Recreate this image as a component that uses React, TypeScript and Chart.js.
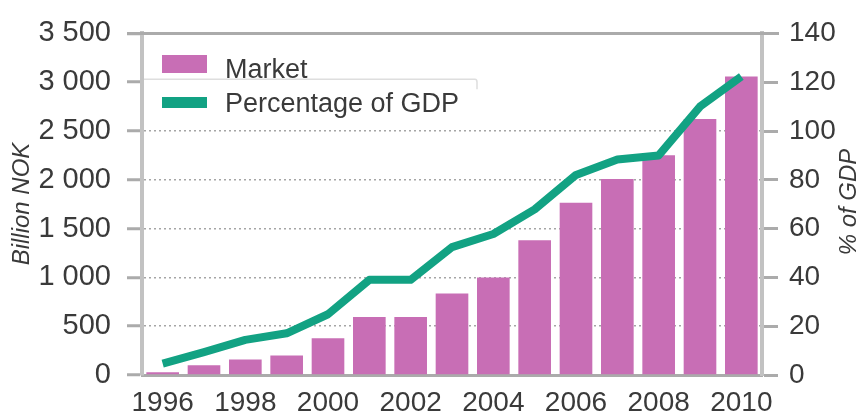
import React, { useEffect, useRef } from "react";
import { Chart, registerables } from "chart.js";

Chart.register(...registerables);

const years = ["1996", "1997", "1998", "1999", "2000", "2001", "2002", "2003", "2004", "2005", "2006", "2007", "2008", "2009", "2010"];
const market = [27, 101, 158, 199, 376, 595, 595, 834, 1000, 1380, 1765, 2007, 2252, 2623, 3059];
const gdpPct = [4.7, 9.4, 14.4, 17.1, 24.9, 39, 39, 52.4, 57.8, 67.9, 82, 88.3, 90, 110, 122.3];
const leftTitle = "Billion NOK";
const rightTitle = "% of GDP";
const marketLabel = "Market";
const gdpLabel = "Percentage of GDP";

const BAR = "#C86EB5";
const LINE = "#12A283";
const TEXT = "#3a3a3a";
const FONT = "'Liberation Sans Narrow', 'Liberation Sans', Arial, sans-serif";
const FONT_REG = "'Liberation Sans', Arial, sans-serif";

const fmt = (v: number) => {
  const s = String(Math.round(v));
  return s.length > 3 ? s.slice(0, s.length - 3) + " " + s.slice(s.length - 3) : s;
};

const decor = {
  id: "decor",
  afterDraw(chart: any) {
    const { ctx, chartArea } = chart;
    const y = chart.scales.y;
    const top = y.getPixelForValue(3500);
    ctx.save();
    // top solid line
    ctx.strokeStyle = "#ababab";
    ctx.lineWidth = 3;
    ctx.beginPath();
    ctx.moveTo(chartArea.left - 15, top);
    ctx.lineTo(chartArea.right + 17, top);
    ctx.stroke();
    // faint legend box edge
    const y3000 = y.getPixelForValue(3000) - 3;
    ctx.strokeStyle = "#dedede";
    ctx.lineWidth = 1.5;
    ctx.beginPath();
    ctx.moveTo(chartArea.left + 2, y3000);
    ctx.lineTo(475, y3000);
    ctx.quadraticCurveTo(477, y3000, 477, y3000 + 3);
    ctx.lineTo(477, y3000 + 10);
    ctx.stroke();
    // legend
    ctx.fillStyle = BAR;
    ctx.fillRect(162, 55, 45, 18);
    ctx.fillStyle = LINE;
    ctx.fillRect(162, 97, 45, 11);
    ctx.fillStyle = TEXT;
    ctx.font = "27px " + FONT_REG;
    ctx.textBaseline = "alphabetic";
    ctx.textAlign = "left";
    ctx.fillText(marketLabel, 225, 78);
    ctx.fillText(gdpLabel, 225, 112);
    // axis titles
    ctx.font = "italic 24px " + FONT_REG;
    ctx.textAlign = "center";
    ctx.textBaseline = "middle";
    ctx.save();
    ctx.translate(22, 204);
    ctx.rotate(-Math.PI / 2);
    ctx.fillText(leftTitle, 0, 0);
    ctx.restore();
    ctx.save();
    ctx.translate(849, 202);
    ctx.rotate(-Math.PI / 2);
    ctx.fillText(rightTitle, 0, 0);
    ctx.restore();
    ctx.restore();
  },
};

export default function App() {
  const ref = useRef<HTMLCanvasElement | null>(null);
  useEffect(() => {
    if (!ref.current) return;
    const chart = new Chart(ref.current, {
      type: "bar",
      data: {
        labels: years,
        datasets: [
          {
            type: "line",
            label: gdpLabel,
            data: gdpPct,
            yAxisID: "y1",
            borderColor: LINE,
            backgroundColor: LINE,
            borderWidth: 8,
            pointRadius: 0,
            tension: 0,
            order: 0,
            borderCapStyle: "butt",
            borderJoinStyle: "round",
          } as any,
          {
            type: "bar",
            label: marketLabel,
            data: market,
            yAxisID: "y",
            backgroundColor: BAR,
            borderWidth: 0,
            barPercentage: 0.79,
            categoryPercentage: 1,
            order: 1,
          },
        ],
      },
      options: {
        animation: false,
        responsive: false,
        maintainAspectRatio: false,
        layout: { padding: { top: 28, left: 0, right: 0, bottom: 0 } },
        plugins: { legend: { display: false }, tooltip: { enabled: false } },
        scales: {
          x: {
            grid: { display: false, drawTicks: false },
            border: { display: true, color: "#ababab", width: 3 },
            ticks: { color: TEXT, font: { family: FONT, size: 28 }, padding: 11, maxRotation: 0, autoSkip: false, callback: (_v: any, i: number) => (i % 2 === 0 ? years[i] : "") },
            afterFit: (s: any) => { s.height = 41; },
          },
          y: {
            position: "left",
            min: 0,
            max: 3500,
            ticks: { stepSize: 500, color: TEXT, font: { family: FONT, size: 29 }, padding: 16, callback: (v: any) => fmt(Number(v)) },
            grid: {
              color: (c: any) => {
                const v = c.tick && c.tick.value;
                return v === 0 || v === 3000 || v === 3500 ? "rgba(0,0,0,0)" : "#a5a5a5";
              },
              lineWidth: 1.5,
              tickColor: "#ababab",
              tickWidth: 3,
              tickLength: 15,
            },
            border: { display: true, color: "#c2c2c2", width: 4, dash: [2, 3] },
            afterFit: (s: any) => { s.width = 142; },
          },
          y1: {
            position: "right",
            min: 0,
            max: 140,
            ticks: { stepSize: 20, color: TEXT, font: { family: FONT, size: 28 }, padding: 11 },
            grid: { drawOnChartArea: false, tickColor: "#ababab", tickWidth: 3, tickLength: 16 },
            border: { display: true, color: "#c2c2c2", width: 4 },
            afterFit: (s: any) => { s.width = 100; },
          },
        },
      },
      plugins: [decor],
    });
    return () => chart.destroy();
  }, []);
  return (
    <div style={{ position: "fixed", left: 0, top: 0, width: 862, height: 416, background: "#fff" }}>
      <canvas ref={ref} width={862} height={416} style={{ width: 862, height: 416 }} />
    </div>
  );
}
